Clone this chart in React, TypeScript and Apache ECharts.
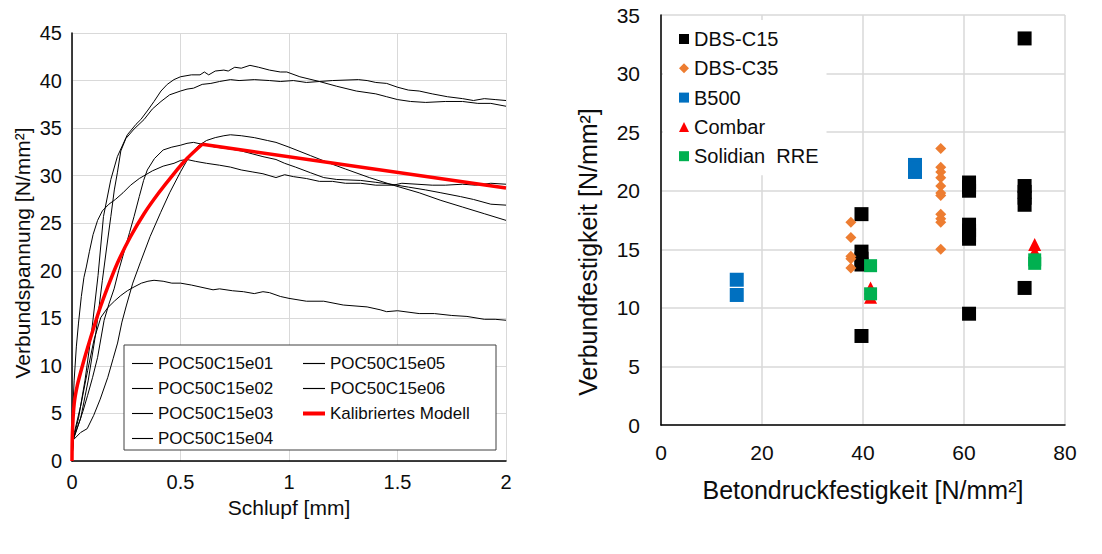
import React, { useEffect, useRef } from "react";
import * as echarts from "echarts";

// ---------- Left chart: bond stress vs. slip ----------
const slipTicks = [0, 0.5, 1, 1.5, 2];
const curveNames = [
  "POC50C15e01",
  "POC50C15e02",
  "POC50C15e03",
  "POC50C15e04",
  "POC50C15e05",
  "POC50C15e06",
];
const modelName = "Kalibriertes Modell";

const e01 = [[0,0],[0.005,2.2],[0.03,4.5],[0.06,8.5],[0.09,13.5],[0.12,19.5],[0.145,25.7],[0.179,29.6],[0.209,32.0],[0.255,34.3],[0.295,35.4],[0.317,35.9],[0.35,36.9],[0.378,37.8],[0.41,38.9],[0.439,39.6],[0.47,40.1],[0.5,40.4],[0.55,40.6],[0.59,40.6],[0.61,40.9],[0.63,40.6],[0.66,41.0],[0.7,41.1],[0.72,41.0],[0.75,41.4],[0.78,41.3],[0.82,41.6],[0.86,41.4],[0.91,41.1],[0.96,40.9],[0.99,40.9],[1.05,40.4],[1.14,39.9],[1.22,39.4],[1.31,38.9],[1.4,38.6],[1.45,38.3],[1.5,38.0],[1.56,37.8],[1.63,37.7],[1.72,37.8],[1.8,37.8],[1.87,37.6],[1.93,37.6],[2.0,37.3]];
const e02 = [[0,0],[0.005,2.2],[0.04,4.5],[0.075,8.5],[0.11,13.5],[0.14,19],[0.16,22.5],[0.179,25.7],[0.195,28.5],[0.209,30.3],[0.225,32.6],[0.248,33.9],[0.286,34.9],[0.332,35.9],[0.37,37.0],[0.41,37.8],[0.45,38.5],[0.5,38.9],[0.53,39.1],[0.56,39.2],[0.6,39.6],[0.64,39.7],[0.68,39.9],[0.73,40.1],[0.77,40.0],[0.84,40.1],[0.91,40.0],[0.96,39.9],[1.02,40.0],[1.08,39.8],[1.14,39.9],[1.2,40.0],[1.32,40.1],[1.36,40.0],[1.4,39.8],[1.45,39.7],[1.5,39.3],[1.55,39.0],[1.6,38.9],[1.66,38.6],[1.73,38.3],[1.8,38.1],[1.85,37.9],[1.9,38.1],[1.95,38.0],[2.0,37.9]];
const e03 = [[0,0],[0.005,2.2],[0.04,3.0],[0.07,3.4],[0.1,4.8],[0.13,6.5],[0.165,8.8],[0.19,10.8],[0.21,12.4],[0.23,14.6],[0.25,16.3],[0.28,18.7],[0.317,21.0],[0.36,23.6],[0.408,26.1],[0.45,28.2],[0.5,30.4],[0.54,32.0],[0.58,33.1],[0.62,33.7],[0.66,34.0],[0.7,34.2],[0.73,34.3],[0.78,34.2],[0.84,34.0],[0.9,33.7],[0.94,33.5],[1.0,33.0],[1.1,32.1],[1.2,31.2],[1.26,30.7],[1.37,29.8],[1.48,29.0],[1.6,28.2],[1.7,27.4],[1.8,26.7],[1.9,26.0],[2.0,25.3]];
const e04 = [[0,0],[0.005,2.2],[0.026,3.6],[0.05,5.2],[0.072,6.9],[0.095,8.8],[0.118,10.9],[0.148,14.8],[0.17,16.5],[0.194,18.1],[0.215,20.0],[0.24,22.0],[0.265,24.0],[0.286,25.7],[0.31,27.8],[0.33,29.5],[0.347,30.6],[0.38,31.8],[0.42,32.7],[0.46,33.0],[0.5,33.2],[0.53,33.4],[0.56,33.5],[0.6,33.3],[0.66,33.0],[0.73,32.8],[0.78,32.6],[0.83,32.3],[0.88,32.0],[0.94,31.7],[0.98,31.3],[1.03,30.9],[1.1,30.3],[1.16,29.8],[1.22,29.6],[1.33,29.5],[1.4,29.3],[1.47,29.1],[1.55,28.8],[1.63,28.5],[1.7,28.2],[1.79,27.8],[1.85,27.5],[1.93,27.0],[2.0,26.9]];
const e05 = [[0,0],[0.003,4.9],[0.01,8.5],[0.02,12.0],[0.03,14.5],[0.043,17.3],[0.055,19.3],[0.066,20.4],[0.08,22.0],[0.097,23.8],[0.118,25.3],[0.14,26.3],[0.17,27.0],[0.2,27.5],[0.235,28.2],[0.27,29.0],[0.31,29.7],[0.37,30.5],[0.42,31.0],[0.47,31.3],[0.5,31.6],[0.53,31.7],[0.57,31.5],[0.62,31.3],[0.68,31.1],[0.73,30.9],[0.78,30.6],[0.83,30.4],[0.88,30.2],[0.94,29.8],[0.98,30.1],[1.02,29.9],[1.08,29.7],[1.14,29.4],[1.2,29.4],[1.26,29.2],[1.33,29.2],[1.4,29.0],[1.48,29.0],[1.52,29.2],[1.59,29.1],[1.66,29.0],[1.72,29.0],[1.8,29.1],[1.86,29.0],[1.93,29.2],[2.0,29.1]];
const e06 = [[0,0],[0.005,2.2],[0.011,3.0],[0.041,5.9],[0.072,9.5],[0.102,12.8],[0.133,15.1],[0.164,16.1],[0.195,16.8],[0.225,17.4],[0.255,17.9],[0.286,18.3],[0.32,18.7],[0.35,18.9],[0.378,19.0],[0.42,18.9],[0.46,18.7],[0.5,18.7],[0.55,18.5],[0.59,18.3],[0.65,18.0],[0.68,18.1],[0.74,17.9],[0.79,17.8],[0.84,17.6],[0.88,17.8],[0.91,17.7],[0.96,17.3],[1.0,17.1],[1.08,16.8],[1.16,16.8],[1.25,16.4],[1.36,16.2],[1.42,15.9],[1.45,15.7],[1.5,15.8],[1.6,15.5],[1.67,15.5],[1.75,15.3],[1.82,15.2],[1.9,14.9],[1.95,14.9],[2.0,14.8]];
// calibrated model: ascending branch and descending branch
const modelRise = [[0,0],[0.002,3],[0.01,6],[0.025,8],[0.049,10.1],[0.085,12.9],[0.125,15.8],[0.165,18.3],[0.209,20.8],[0.27,23.6],[0.332,26.0],[0.4,28.2],[0.469,30.2],[0.53,31.8],[0.6,33.3]];
const modelFall = [[0.6,33.3],[2.0,28.7]];
const curves = [e01, e02, e03, e04, e05, e06];

// ---------- Right chart: bond strength vs. concrete strength ----------
const dbsC15 = [[39.7,18.0],[39.7,14.8],[39.7,14.2],[39.7,13.7],[39.7,7.6],[61,20.7],[61,20.3],[61,20.0],[61,17.1],[61,16.6],[61,16.2],[61,15.9],[61,9.5],[72,33.0],[72,20.4],[72,19.9],[72,19.4],[72,18.8],[72,11.7]];
const dbsC35 = [[37.6,17.3],[37.6,16.0],[37.6,14.4],[37.6,14.2],[37.6,13.4],[55.4,23.6],[55.4,22.0],[55.4,21.6],[55.4,21.1],[55.4,20.4],[55.4,19.8],[55.4,19.6],[55.4,18.0],[55.4,17.6],[55.4,17.3],[55.4,15.0]];
const b500 = [[15,12.4],[15,11.1],[50.3,22.2],[50.3,21.9],[50.3,21.6]];
const combar = [[41.5,11.7],[41.5,10.9],[74,15.4],[74,14.8]];
const solidian = [[41.5,13.6],[41.5,11.2],[74,14.1],[74,13.8]];
const scatterNames = ["DBS-C15", "DBS-C35", "B500", "Combar", "Solidian  RRE"];

const FONT = '"Liberation Sans", Arial, sans-serif';
const TXT = "#0d0d0d";
const THIN_ICON = "path://M0 0H21V1.1H0Z";
const THICK_ICON = "path://M0 0H22V4H0Z";

export default function App() {
  const ref = useRef<HTMLDivElement>(null);
  useEffect(() => {
    if (!ref.current) return;
    const chart = echarts.init(ref.current, undefined, { renderer: "svg" });
    const lineSeries = curves.map((d, i) => ({
      name: curveNames[i],
      type: "line",
      xAxisIndex: 0,
      yAxisIndex: 0,
      data: d,
      symbol: "none",
      lineStyle: { color: "#000", width: 1 },
      itemStyle: { color: "#000" },
      z: 2,
    }));
    const modelStyle = {
      name: modelName,
      type: "line",
      xAxisIndex: 0,
      yAxisIndex: 0,
      symbol: "none",
      lineStyle: { color: "#ff0000", width: 3.5 },
      itemStyle: { color: "#ff0000" },
      z: 3,
    };
    const scatterStyles = [
      { data: dbsC15, symbol: "rect", size: 14, color: "#000000" },
      { data: dbsC35, symbol: "diamond", size: 11, color: "#ed7d31" },
      { data: b500, symbol: "rect", size: 14, color: "#0070c0" },
      { data: combar, symbol: "triangle", size: 13, color: "#ff0000" },
      { data: solidian, symbol: "rect", size: 13, color: "#00b050" },
    ];
    const scatterSeries = scatterStyles.map((s, i) => ({
      name: scatterNames[i],
      type: "scatter",
      xAxisIndex: 1,
      yAxisIndex: 1,
      data: s.data,
      symbol: s.symbol,
      symbolSize: s.size,
      itemStyle: { color: s.color, opacity: 1 },
    }));
    const axisLine = { lineStyle: { color: "#000", width: 1.5 } };
    const split = { lineStyle: { color: "#d9d9d9", width: 1 } };
    const split2 = { lineStyle: { color: "#d9d9d9", width: 1.5 } };
    const lineLegendText = { fontSize: 17, color: TXT, fontFamily: FONT };
    chart.setOption({
      animation: false,
      textStyle: { fontFamily: FONT },
      grid: [
        { left: 72, top: 33, width: 434, height: 428 },
        { left: 661, top: 15, width: 404, height: 410 },
      ],
      xAxis: [
        {
          gridIndex: 0,
          type: "value",
          min: slipTicks[0],
          max: slipTicks[slipTicks.length - 1],
          interval: 0.5,
          name: "Schlupf [mm]",
          nameLocation: "middle",
          nameGap: 35,
          nameTextStyle: { fontSize: 21, color: TXT, fontFamily: FONT },
          axisLine,
          axisTick: { show: false },
          axisLabel: { fontSize: 20, color: TXT, margin: 11, fontFamily: FONT },
          splitLine: { show: true, ...split },
        },
        {
          gridIndex: 1,
          type: "value",
          min: 0,
          max: 80,
          interval: 20,
          name: "Betondruckfestigkeit [N/mm²]",
          nameLocation: "middle",
          nameGap: 52,
          nameTextStyle: { fontSize: 25, color: TXT, fontFamily: FONT },
          axisLine,
          axisTick: { show: false },
          axisLabel: { fontSize: 21, color: TXT, margin: 17, fontFamily: FONT },
          splitLine: { show: true, ...split2 },
        },
      ],
      yAxis: [
        {
          gridIndex: 0,
          type: "value",
          min: 0,
          max: 45,
          interval: 5,
          name: "Verbundspannung [N/mm²]",
          nameLocation: "middle",
          nameGap: 39,
          nameTextStyle: { fontSize: 21, color: TXT, fontFamily: FONT, padding: [0, 12, 0, 0] },
          axisLine: { show: true, ...axisLine },
          axisTick: { show: false },
          axisLabel: { fontSize: 20, color: TXT, margin: 10, fontFamily: FONT },
          splitLine: { show: true, ...split },
        },
        {
          gridIndex: 1,
          type: "value",
          min: 0,
          max: 35,
          interval: 5,
          name: "Verbundfestigkeit [N/mm²]",
          nameLocation: "middle",
          nameGap: 61,
          nameTextStyle: { fontSize: 25, color: TXT, fontFamily: FONT, padding: [0, 64, 0, 0] },
          axisLine: { show: true, ...axisLine },
          axisTick: { show: false },
          axisLabel: { fontSize: 21, color: TXT, margin: 21, fontFamily: FONT },
          splitLine: { show: true, ...split2 },
        },
      ],
      legend: [
        {
          data: curveNames.slice(0, 4).map((n) => ({ name: n, icon: THIN_ICON })),
          orient: "vertical",
          left: 132,
          top: 355,
          padding: 0,
          itemWidth: 21,
          itemHeight: 10,
          itemGap: 8,
          selectedMode: false,
          textStyle: lineLegendText,
          z: 6,
        },
        {
          data: [
            { name: curveNames[4], icon: THIN_ICON },
            { name: curveNames[5], icon: THIN_ICON },
            { name: modelName, icon: THICK_ICON },
          ],
          orient: "vertical",
          left: 303,
          top: 355,
          padding: 0,
          itemWidth: 22,
          itemHeight: 10,
          itemGap: 8,
          selectedMode: false,
          textStyle: lineLegendText,
          z: 6,
        },
        {
          data: scatterNames,
          orient: "vertical",
          left: 663,
          top: 20,
          padding: [9, 8, 9, 16],
          backgroundColor: "#ffffff",
          itemWidth: 10,
          itemHeight: 10,
          itemGap: 9.3,
          selectedMode: false,
          textStyle: { fontSize: 20, color: TXT, fontFamily: FONT },
        },
      ],
      graphic: [
        {
          type: "rect",
          z: 5,
          shape: { x: 124, y: 345, width: 372, height: 105 },
          style: { fill: "#ffffff", stroke: "#404040", lineWidth: 1 },
        },
      ],
      series: [
        ...lineSeries,
        { ...modelStyle, data: modelRise, smooth: 0.3 },
        { ...modelStyle, data: modelFall },
        ...scatterSeries,
      ],
    });
    return () => chart.dispose();
  }, []);
  return (
    <div
      ref={ref}
      style={{ position: "fixed", left: 0, top: 0, width: 1102, height: 554, background: "#fff" }}
    />
  );
}
